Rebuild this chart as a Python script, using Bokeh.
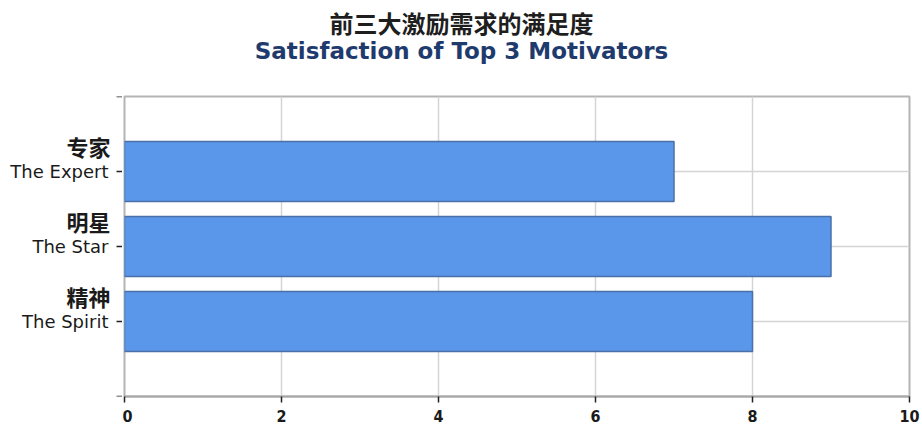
from bokeh.plotting import figure
from bokeh.models import FixedTicker, Range1d
from bokeh.layouts import row, column
from bokeh.core.properties import value
from bokeh.embed import file_html
from bokeh.resources import INLINE

categories_en = ["The Spirit", "The Star", "The Expert"]
categories_zh = ["精神", "明星", "专家"]
values = [8, 9, 7]
x_ticks = [0, 2, 4, 6, 8, 10]
title_zh = "前三大激励需求的满足度"
title_en = "Satisfaction of Top 3 Motivators"

y_pos = list(range(1, len(categories_en) + 1))
y_top = len(categories_en) + 1
y_ticks = [0] + y_pos + [y_top]

W = 922
TITLE_H = 94
H = 428 - TITLE_H
TOP = 2
BOTTOM = 32
LABEL_W = 122
TICK = 6

# ---- title strip
tf = figure(width=W, height=TITLE_H, output_backend="svg", toolbar_location=None,
            x_range=Range1d(0, W), y_range=Range1d(0, TITLE_H),
            x_axis_location=None, y_axis_location=None, min_border=0)
tf.outline_line_color = None
tf.grid.grid_line_color = None
tf.text(x=[W / 2], y=[TITLE_H - 22], text=[title_zh], text_align="center",
        text_baseline="middle", text_font=value("Noto Sans CJK SC"),
        text_font_size="24px", text_font_style="bold", text_color="#1e1e1e")
tf.text(x=[W / 2], y=[TITLE_H - 50], text=[title_en], text_align="center",
        text_baseline="middle", text_font=value("DejaVu Sans"),
        text_font_size="23px", text_font_style="bold", text_color="#1f3b6e")

# ---- main chart
p = figure(width=W - LABEL_W, height=H, output_backend="svg", toolbar_location=None,
           x_range=Range1d(0, 10), y_range=Range1d(0, y_top),
           y_axis_location=None,
           min_border_left=2, min_border_right=13, min_border_top=TOP,
           min_border_bottom=BOTTOM)

p.hbar(y=y_pos, right=values, left=0, height=0.8, fill_color="#5a96ea",
       line_color="#4a70a8", line_width=1.5)

p.xaxis.ticker = FixedTicker(ticks=x_ticks)
ax = p.xaxis[0]
ax.axis_line_color = "#a8a8a8"
ax.axis_line_width = 2
ax.major_tick_line_color = "#222222"
ax.major_tick_line_width = 1.5
ax.major_tick_in = 0
ax.major_tick_out = TICK
ax.minor_tick_line_color = None
ax.major_label_text_color = "#1a1a1a"
ax.major_label_text_font = "DejaVu Sans Condensed"
ax.major_label_text_font_style = "bold"
ax.major_label_text_font_size = "16px"
ax.major_label_standoff = 7

p.xgrid.grid_line_color = "#d4d4d4"
p.xgrid.grid_line_width = 1.5
p.ygrid.ticker = FixedTicker(ticks=y_ticks)
p.ygrid.grid_line_color = "#d4d4d4"
p.ygrid.grid_line_width = 1.5
p.outline_line_color = "#b4b4b4"
p.outline_line_width = 2

# ---- category labels + y ticks, sharing the same vertical scale
lab = figure(width=LABEL_W, height=H, output_backend="svg", toolbar_location=None,
             x_range=Range1d(0, LABEL_W), y_range=p.y_range,
             x_axis_location=None, y_axis_location=None,
             min_border_left=0, min_border_right=0, min_border_top=TOP,
             min_border_bottom=BOTTOM)
lab.outline_line_color = None
lab.grid.grid_line_color = None
lab.segment(x0=[LABEL_W - TICK] * len(y_ticks), x1=[LABEL_W] * len(y_ticks),
            y0=y_ticks, y1=y_ticks, line_color="#222222", line_width=1.5)
lab.text(x=[LABEL_W - 14] * len(y_pos), y=y_pos, text=categories_en,
         text_align="right", text_baseline="middle", text_font=value("DejaVu Sans"),
         text_font_size="18px", text_color="#1a1a1a")
lab.text(x=[LABEL_W - 12] * len(y_pos), y=[v + 0.34 for v in y_pos], text=categories_zh,
         text_align="right", text_baseline="middle", text_font=value("Noto Sans CJK SC"),
         text_font_size="22px", text_font_style="bold", text_color="#1a1a1a")

layout = column(tf, row(lab, p, spacing=0), spacing=0)
open("out.html", "w").write(file_html(layout, INLINE))
